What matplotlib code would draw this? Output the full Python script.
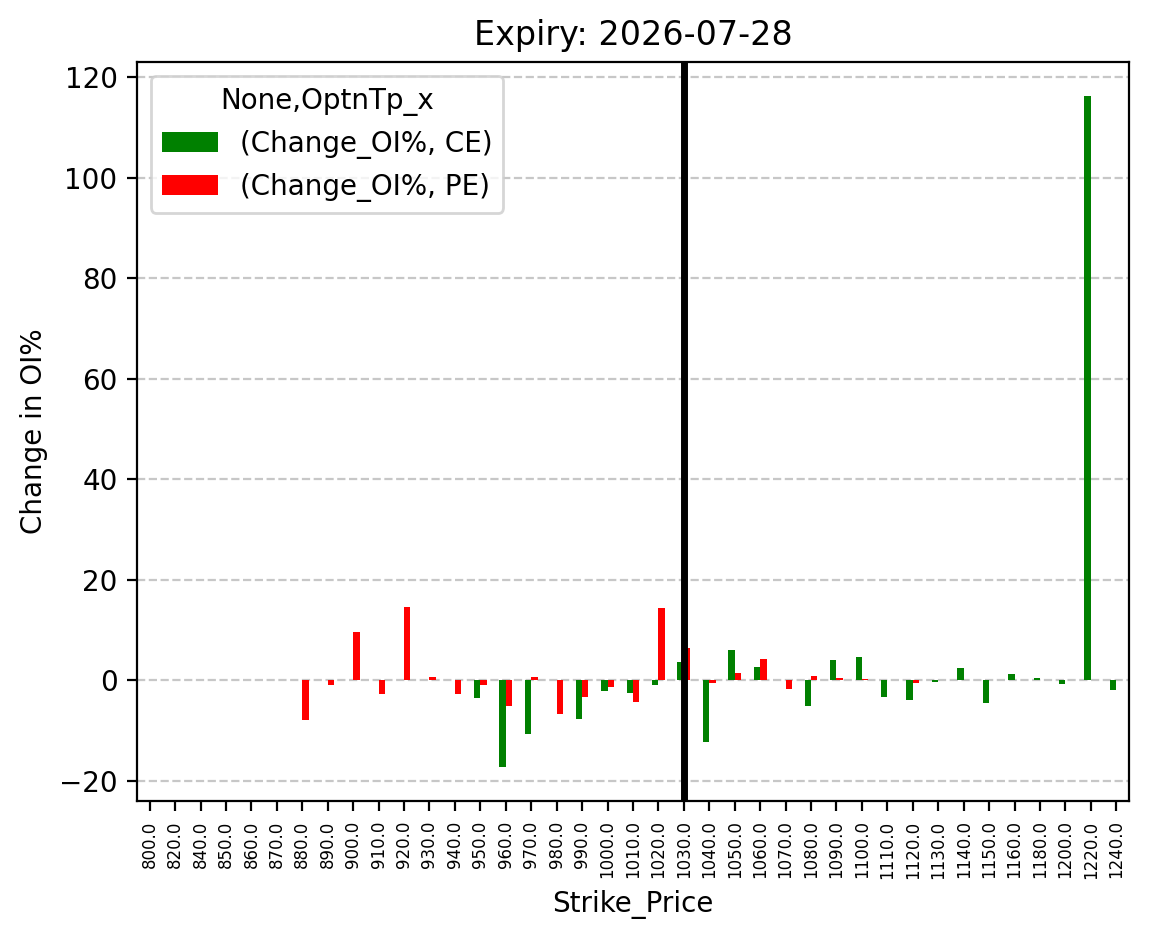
import numpy as np
import pandas as pd
import matplotlib
matplotlib.use('Agg')
import matplotlib.pyplot as plt

nan = np.nan

# Strike prices (categories)
strikes = [800.0, 820.0, 840.0, 850.0, 860.0, 870.0, 880.0, 890.0, 900.0, 910.0,
           920.0, 930.0, 940.0, 950.0, 960.0, 970.0, 980.0, 990.0, 1000.0, 1010.0,
           1020.0, 1030.0, 1040.0, 1050.0, 1060.0, 1070.0, 1080.0, 1090.0, 1100.0, 1110.0,
           1120.0, 1130.0, 1140.0, 1150.0, 1160.0, 1180.0, 1200.0, 1220.0, 1240.0]

# Change in OI% for calls
ce_change = [nan, nan, nan, nan, nan, nan, nan, nan, nan, nan,
             nan, nan, nan, -3.6, -17.3, -10.6, nan, -7.6, -2.2, -2.6,
             -1.0, 3.7, -12.2, 6.1, 2.7, nan, -5.0, 4.1, 4.7, -3.4,
             -4.0, -0.3, 2.5, -4.4, 1.3, 0.5, -0.7, 116.3, -2.0]

# Change in OI% for puts
pe_change = [nan, nan, nan, nan, nan, nan, -7.8, -1.0, 9.7, -2.8,
             14.6, 0.7, -2.8, -0.9, -5.0, 0.7, -6.6, -3.4, -1.3, -4.2,
             14.4, 6.5, -0.5, 1.5, 4.3, -1.7, 0.9, 0.5, 0.3, nan,
             -0.5, nan, nan, nan, nan, nan, nan, nan, nan]

spot_strike = 1030.0
expiry = '2026-07-28'

cols = pd.MultiIndex.from_tuples([('Change_OI%', 'CE'), ('Change_OI%', 'PE')],
                                 names=[None, 'OptnTp_x'])
df = pd.DataFrame(np.column_stack([ce_change, pe_change]),
                  index=pd.Index(strikes, name='Strike_Price'), columns=cols)

fig = plt.figure(figsize=(1149 / 200, 939 / 200), dpi=200)
ax = fig.add_axes([0.1192, 0.147, 0.8634, 0.787])

df.plot(kind='bar', ax=ax, color=['green', 'red'])

# 현재가 위치 표시
spot_idx = strikes.index(spot_strike)
ax.axvline(spot_idx, color='black', linewidth=2.5)

ax.set_title('Expiry: ' + expiry, fontsize=12)
ax.set_xlabel('Strike_Price', fontsize=10)
ax.set_ylabel('Change in OI%', fontsize=10)
ax.tick_params(axis='x', labelsize=6)
ax.grid(axis='y', linestyle='--', alpha=0.7)
ax.set_axisbelow(True)

leg = ax.legend(title='None,OptnTp_x', loc='upper left')

fig.savefig('out.png', dpi=200)
